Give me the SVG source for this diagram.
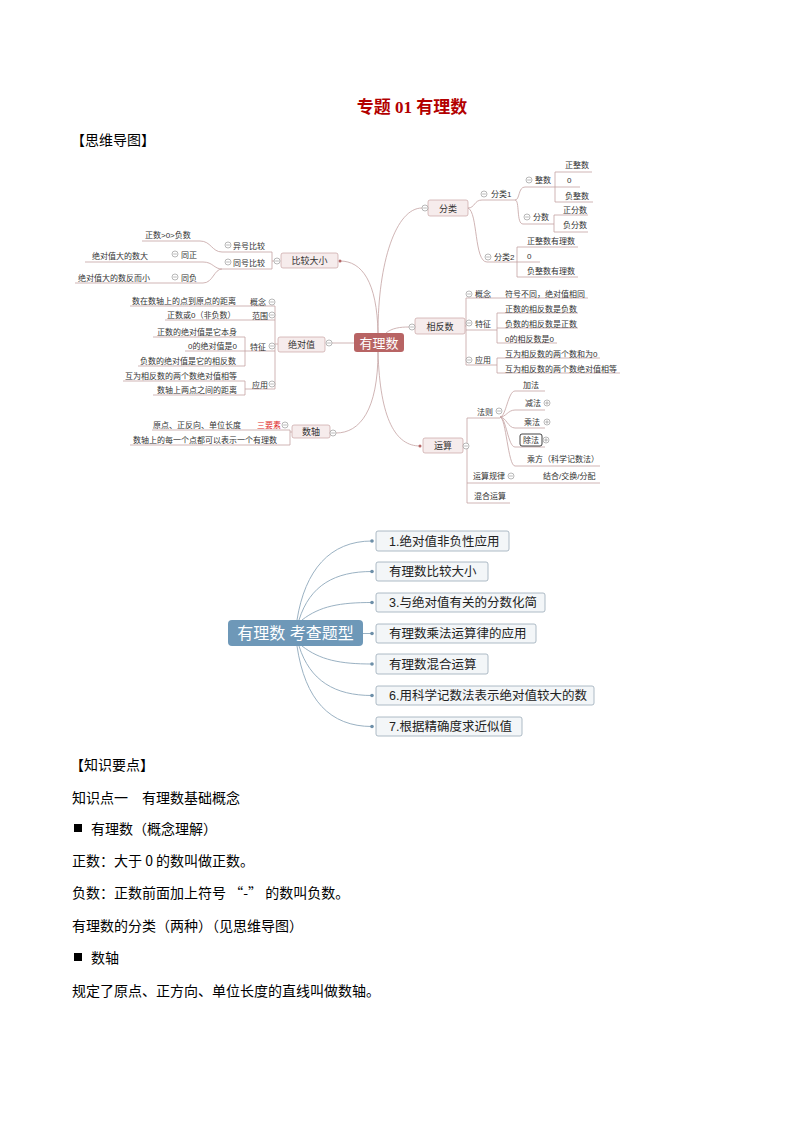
<svg xmlns="http://www.w3.org/2000/svg" xmlns:xlink="http://www.w3.org/1999/xlink" width="794" height="1123" viewBox="0 0 794 1123">
<style>
text{font-family:"Liberation Sans","Noto Sans CJK SC",sans-serif;}
.t8{font-size:8px;fill:#333;}
.t9{font-size:9px;fill:#333;text-anchor:middle;}
.rb{fill:#f6ecec;stroke:#c9a3a3;stroke-width:0.7;}
.rl{fill:none;stroke:#c4a2a2;stroke-width:0.8;}
.bl{fill:none;stroke:#8ea8bb;stroke-width:0.9;}
.bb{fill:#f3f6f8;stroke:#9aabb8;stroke-width:0.8;}
.bt{font-size:12.5px;fill:#222;}
.body{font-size:14px;fill:#000;font-family:"Noto Sans CJK SC","Liberation Sans",sans-serif;}
</style>
<defs>
<g id="m"><circle r="3" fill="#fff" stroke="#8a8a8a" stroke-width="0.6"/><path d="M-1.8 0H1.8" stroke="#8a8a8a" stroke-width="0.6"/></g>
<g id="p"><circle r="3" fill="#fff" stroke="#8a8a8a" stroke-width="0.6"/><path d="M-1.8 0H1.8M0 -1.8V1.8" stroke="#8a8a8a" stroke-width="0.6"/></g>
</defs>
<rect width="794" height="1123" fill="#fff"/>

<text x="412" y="113" text-anchor="middle" font-size="17" font-weight="bold" fill="#b30000" style="font-family:'Liberation Serif','Noto Sans CJK SC',serif">专题 01 有理数</text>
<text x="71" y="145" class="body" font-size="15">【思维导图】</text>

<!-- red mind map connectors -->
<g id="connectors">
<path class="rl" d="M378 333 C378 262 396 208 422 208"/>
<path class="rl" d="M378 333 C377 282 362 261 340 261"/>
<path class="rl" d="M354 343 H332"/>
<path class="rl" d="M386 333 C392 328 400 327 409 327"/>
<path class="rl" d="M378 352 C378 410 360 433 336 433"/>
<path class="rl" d="M378 352 C380 420 396 446 420 446"/>
<circle cx="340" cy="261" r="1.5" fill="#b56565"/>
<circle cx="420" cy="446" r="1.5" fill="#b56565"/>
<!-- 分类 -->
<path class="rl" d="M468 208 C475 208 474 200 482 200 H515"/>
<path class="rl" d="M468 208 C478 212 474 262 487 262 H517"/>
<path class="rl" d="M515 200 C520 200 518 187 525 187 H555"/>
<path class="rl" d="M515 200 C520 200 516 224 523 224 H554"/>
<path class="rl" d="M555 172 V202 M555 172 H592 M555 187 H580 M555 202 H593"/>
<path class="rl" d="M554 215 V232 M554 215 H588 M554 232 H588"/>
<path class="rl" d="M517 247 V277 M517 247 H578 M517 262 H540 M517 277 H578"/>
<!-- 相反数 -->
<path class="rl" d="M465 326 H466 M466 298 V365 M466 298 H588 M466 330 H497 M466 365 H497"/>
<path class="rl" d="M497 313 V343 M497 313 H578 M497 328 H578 M497 343 H557"/>
<path class="rl" d="M497 358 V373 M497 358 H600 M497 373 H620"/>
<!-- 运算 -->
<path class="rl" d="M467 418 V503 M467 418 H500 M467 483 H600 M467 503 H510"/>
<path class="rl" d="M500 417 C506 417 508 391 515 391 H545"/>
<path class="rl" d="M500 417 C506 417 508 410 515 410 H545"/>
<path class="rl" d="M500 417 C506 417 508 428 515 428 H545"/>
<path class="rl" d="M500 417 C506 417 508 447 515 447 H545"/>
<path class="rl" d="M500 417 C506 417 508 466 515 466 H600"/>
<!-- 比较大小 -->
<path class="rl" d="M274 261 H272 M272 252 V269 M222 252 H272 M222 269 H272"/>
<path class="rl" d="M142 241 H200 C211 241 212 252 222 252"/>
<path class="rl" d="M85 262 H203 C213 262 214 269 222 269"/>
<path class="rl" d="M75 283 H203 C213 283 214 269 222 269"/>
<!-- 绝对值 -->
<path class="rl" d="M278 344 H275 M275 306 V389 M130 306 H275 M165 320 H275 M245 351 H275 M245 389 H275"/>
<path class="rl" d="M245 337 V366 M153 337 H245 M185 351 H245 M138 366 H245"/>
<path class="rl" d="M245 381 V395 M123 381 H245 M153 395 H245"/>
<!-- 数轴 -->
<path class="rl" d="M292 432 H290 M290 430 V445 M152 430 H290 M130 445 H290"/>
</g>

<g id="center">
<rect x="354" y="333" width="50" height="19" rx="3" fill="#b86464"/>
<text x="379" y="347.5" text-anchor="middle" font-size="13" fill="#fff">有理数</text>
</g>

<g id="fenlei">
<rect class="rb" x="428" y="200" width="40" height="16" rx="2"/>
<text class="t9" x="448" y="211.5">分类</text>
<use href="#m" x="425" y="208"/>
<use href="#m" x="484" y="194"/><text class="t8" x="491" y="197">分类1</text>
<use href="#m" x="529" y="180"/><text class="t8" x="535" y="183">整数</text>
<text class="t8" x="565" y="168">正整数</text>
<text class="t8" x="567" y="183">0</text>
<text class="t8" x="565" y="199">负整数</text>
<use href="#m" x="527" y="217"/><text class="t8" x="533" y="220">分数</text>
<text class="t8" x="563" y="213">正分数</text>
<text class="t8" x="563" y="228">负分数</text>
<use href="#m" x="488" y="257"/><text class="t8" x="494" y="260">分类2</text>
<text class="t8" x="527" y="244">正整数有理数</text>
<text class="t8" x="527" y="259">0</text>
<text class="t8" x="527" y="274">负整数有理数</text>
</g>

<g id="xiangfanshu">
<rect class="rb" x="415" y="318" width="50" height="16" rx="2"/>
<text class="t9" x="440" y="329.5">相反数</text>
<use href="#m" x="412" y="327"/>
<use href="#m" x="469" y="294"/><text class="t8" x="475" y="297">概念</text>
<text class="t8" x="505" y="297">符号不同，绝对值相同</text>
<use href="#m" x="469" y="323"/><text class="t8" x="475" y="327">特征</text>
<text class="t8" x="505" y="312">正数的相反数是负数</text>
<text class="t8" x="505" y="327">负数的相反数是正数</text>
<text class="t8" x="505" y="342">0的相反数是0</text>
<use href="#m" x="469" y="360"/><text class="t8" x="475" y="363">应用</text>
<text class="t8" x="505" y="357">互为相反数的两个数和为0</text>
<text class="t8" x="505" y="372">互为相反数的两个数绝对值相等</text>
</g>

<g id="yunsuan">
<rect class="rb" x="423" y="438" width="40" height="15" rx="2"/>
<text class="t9" x="443" y="449">运算</text>
<use href="#m" x="466" y="446"/>
<text class="t8" x="477" y="415">法则</text><use href="#m" x="499" y="411"/>
<text class="t8" x="523" y="388">加法</text>
<text class="t8" x="525" y="406">减法</text><use href="#p" x="547" y="403"/>
<text class="t8" x="524" y="425">乘法</text><use href="#p" x="547" y="422"/>
<rect x="520" y="434" width="22" height="12" rx="2" fill="#fff" stroke="#111" stroke-width="0.8"/>
<text class="t8" x="523" y="443">除法</text><use href="#p" x="546" y="440"/>
<text class="t8" x="527" y="462">乘方（科学记数法）</text>
<text class="t8" x="473" y="479">运算规律</text><use href="#m" x="511" y="476"/>
<text class="t8" x="543" y="479">结合/交换/分配</text>
<text class="t8" x="474" y="499">混合运算</text>
</g>

<g id="bijiao">
<rect class="rb" x="281" y="253" width="57" height="15" rx="2"/>
<text class="t9" x="309.5" y="264">比较大小</text>
<use href="#m" x="277" y="261"/>
<use href="#m" x="228" y="245"/><text class="t8" x="233" y="249">异号比较</text>
<text class="t8" x="145" y="238">正数&gt;0&gt;负数</text>
<use href="#m" x="228" y="262"/><text class="t8" x="233" y="266">同号比较</text>
<use href="#m" x="175" y="254"/><text class="t8" x="181" y="258">同正</text>
<text class="t8" x="92" y="259">绝对值大的数大</text>
<use href="#m" x="175" y="277"/><text class="t8" x="181" y="281">同负</text>
<text class="t8" x="78" y="281">绝对值大的数反而小</text>
</g>

<g id="jueduizhi">
<rect class="rb" x="278" y="337" width="47" height="15" rx="2"/>
<text class="t9" x="301.5" y="348">绝对值</text>
<use href="#m" x="329" y="343"/>
<text class="t8" x="250" y="305">概念</text><use href="#m" x="272" y="302"/>
<text class="t8" x="132" y="304">数在数轴上的点到原点的距离</text>
<text class="t8" x="252" y="319">范围</text><use href="#m" x="272" y="315"/>
<text class="t8" x="167" y="318">正数或0（非负数）</text>
<text class="t8" x="250" y="350">特征</text><use href="#m" x="272" y="346"/>
<text class="t8" x="157" y="335">正数的绝对值是它本身</text>
<text class="t8" x="188" y="349">0的绝对值是0</text>
<text class="t8" x="140" y="364">负数的绝对值是它的相反数</text>
<text class="t8" x="252" y="388">应用</text><use href="#m" x="272" y="384"/>
<text class="t8" x="125" y="379">互为相反数的两个数绝对值相等</text>
<text class="t8" x="157" y="393">数轴上两点之间的距离</text>
</g>

<g id="shuzhou">
<rect class="rb" x="292" y="425" width="38" height="13" rx="2"/>
<text class="t9" x="311" y="435">数轴</text>
<use href="#m" x="333" y="433"/>
<text class="t8" x="257" y="428" style="fill:#e02a2a">三要素</text><use href="#m" x="285" y="425"/>
<text class="t8" x="153" y="428">原点、正反向、单位长度</text>
<text class="t8" x="133" y="443">数轴上的每一个点都可以表示一个有理数</text>
</g>

<!-- blue mind map -->
<g id="blue-connectors">
<path class="bl" d="M297 620 C305 570 330 541 372 541"/>
<path class="bl" d="M299 620 C310 585 335 571.5 372 571.5"/>
<path class="bl" d="M302 620 C320 606 340 602.5 372 602.5"/>
<path class="bl" d="M363 633.5 H372"/>
<path class="bl" d="M302 646 C320 660 340 664 372 664"/>
<path class="bl" d="M299 646 C310 681 335 695.5 372 695.5"/>
<path class="bl" d="M297 646 C305 700 330 726.5 372 726.5"/>
<g fill="#6d8fa8">
<circle cx="372" cy="541" r="1.8"/><circle cx="372" cy="571.5" r="1.8"/><circle cx="372" cy="602.5" r="1.8"/>
<circle cx="372" cy="633.5" r="1.8"/><circle cx="372" cy="664" r="1.8"/><circle cx="372" cy="695.5" r="1.8"/><circle cx="372" cy="726.5" r="1.8"/>
</g>
</g>
<g id="blue-center">
<rect x="228" y="620" width="135" height="26" rx="4" fill="#6e98b8"/>
<text x="295.5" y="639" text-anchor="middle" font-size="16" fill="#fff">有理数 考查题型</text>
</g>
<g id="q1"><rect class="bb" x="376" y="531" width="133" height="20" rx="2"/><text class="bt" x="389" y="546">1.绝对值非负性应用</text></g>
<g id="q2"><rect class="bb" x="376" y="562" width="112" height="19" rx="2"/><text class="bt" x="389" y="576">有理数比较大小</text></g>
<g id="q3"><rect class="bb" x="376" y="593" width="169" height="19" rx="2"/><text class="bt" x="389" y="607">3.与绝对值有关的分数化简</text></g>
<g id="q4"><rect class="bb" x="376" y="624" width="160" height="19" rx="2"/><text class="bt" x="389" y="638">有理数乘法运算律的应用</text></g>
<g id="q5"><rect class="bb" x="376" y="654" width="112" height="20" rx="2"/><text class="bt" x="389" y="668.5">有理数混合运算</text></g>
<g id="q6"><rect class="bb" x="376" y="686" width="218" height="19" rx="2"/><text class="bt" x="389" y="700">6.用科学记数法表示绝对值较大的数</text></g>
<g id="q7"><rect class="bb" x="376" y="717" width="146" height="19" rx="2"/><text class="bt" x="389" y="731">7.根据精确度求近似值</text></g>

<!-- knowledge text -->
<g id="knowledge">
<text class="body" x="70" y="770">【知识要点】</text>
<text class="body" x="72" y="803">知识点一　有理数基础概念</text>
<rect x="74" y="824" width="8" height="8" fill="#000"/>
<text class="body" x="91" y="834">有理数（概念理解）</text>
<text class="body" x="72" y="866">正数：大于 0 的数叫做正数。</text>
<text class="body" x="72" y="898">负数：正数前面加上符号 “-” 的数叫负数。</text>
<text class="body" x="72" y="931">有理数的分类（两种）（见思维导图）</text>
<rect x="74" y="953" width="8" height="8" fill="#000"/>
<text class="body" x="91" y="963">数轴</text>
<text class="body" x="72" y="996">规定了原点、正方向、单位长度的直线叫做数轴。</text>
</g>
</svg>
